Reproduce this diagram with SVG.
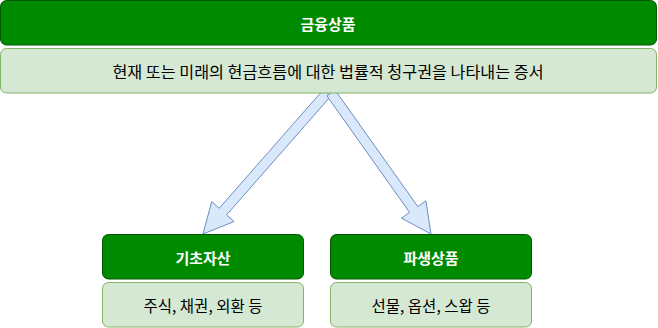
<svg xmlns="http://www.w3.org/2000/svg" width="658" height="328" viewBox="0 0 658 328">
<style>
.hd{fill:#008a00;stroke:#005700;stroke-width:1}
.bd{fill:#d5e8d4;stroke:#82b366;stroke-width:1}
.ar{fill:#dae8fc;stroke:#6c8ebf;stroke-width:1;stroke-linejoin:miter}
text{font-family:"Noto Sans CJK KR","Noto Sans",sans-serif;text-anchor:middle;dominant-baseline:central}
.ht{fill:#ffffff;font-weight:bold;font-size:15px}
.bt{fill:#000000;font-size:15.5px}
</style>
<rect width="658" height="328" fill="#ffffff"/>
<g id="connectors">
<polygon class="ar" points="330.7,96.3 226.6,214.9 234.1,221.5 203,234 211.7,201.7 219.2,208.3 323.3,89.7"/>
<polygon class="ar" points="335.1,90.1 417.8,206.6 425.9,200.8 431,234 401.5,218.2 409.6,212.4 326.9,95.9"/>
</g>
<g id="financial-products">
<rect class="hd" x="0.5" y="0.5" width="656" height="44.5" rx="6"/>
<text class="ht" x="328" y="23">금융상품</text>
</g>
<g id="financial-products-desc">
<rect class="bd" x="0.5" y="48.5" width="656" height="44.5" rx="6"/>
<text class="bt" x="328" y="71" style="font-size:16.2px">현재 또는 미래의 현금흐름에 대한 법률적 청구권을 나타내는 증서</text>
</g>
<g id="underlying-assets">
<rect class="hd" x="102.5" y="234.5" width="201" height="44.5" rx="6"/>
<text class="ht" x="203" y="257">기초자산</text>
</g>
<g id="underlying-assets-desc">
<rect class="bd" x="102.5" y="282.5" width="201" height="44.5" rx="6"/>
<text class="bt" x="203" y="305">주식, 채권, 외환 등</text>
</g>
<g id="derivatives">
<rect class="hd" x="330.5" y="234.5" width="201" height="44.5" rx="6"/>
<text class="ht" x="431" y="257">파생상품</text>
</g>
<g id="derivatives-desc">
<rect class="bd" x="330.5" y="282.5" width="201" height="44.5" rx="6"/>
<text class="bt" x="431" y="305">선물, 옵션, 스왑 등</text>
</g>
</svg>
